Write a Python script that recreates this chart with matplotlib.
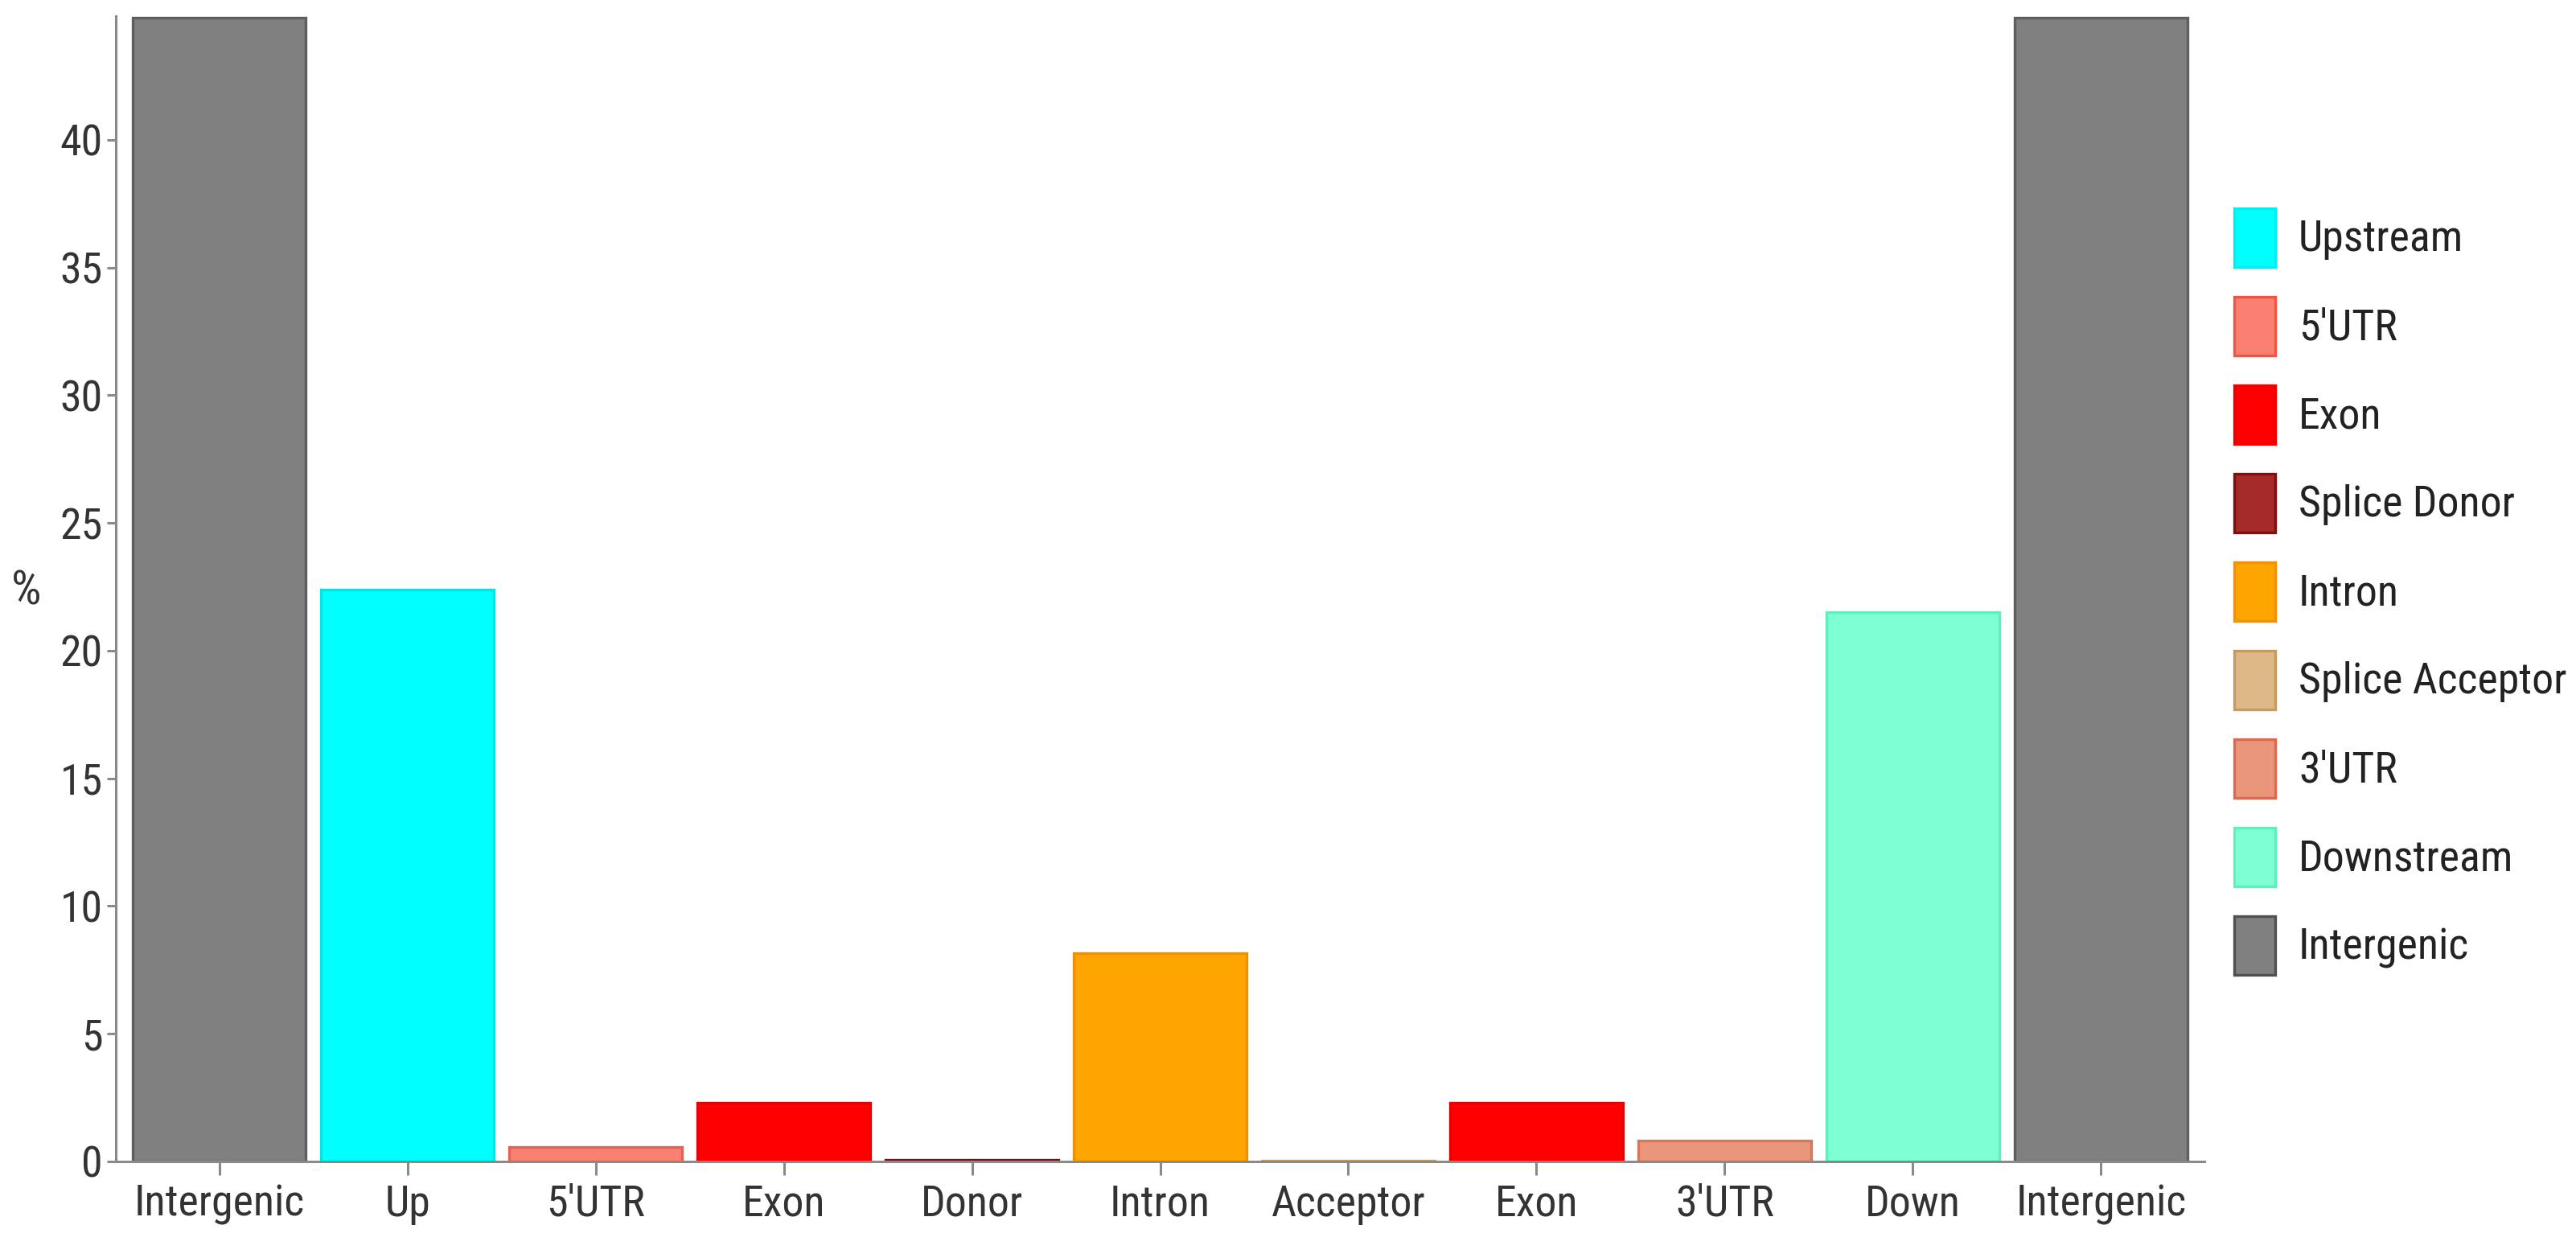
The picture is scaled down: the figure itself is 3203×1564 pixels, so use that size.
import matplotlib
matplotlib.use("Agg")
import matplotlib.pyplot as plt
from matplotlib.patches import Patch
from matplotlib import font_manager as fm

# ---- data ----
categories = ["Intergenic", "Up", "5'UTR", "Exon", "Donor", "Intron",
              "Acceptor", "Exon", "3'UTR", "Down", "Intergenic"]
values = [44.8, 22.4, 0.58, 2.3, 0.05, 8.15, 0.04, 2.3, 0.82, 21.5, 44.8]
fill_colors = ["#808080", "#00FFFF", "#FA8072", "#FF0000", "#A52A2A", "#FFA500",
               "#DEB887", "#FF0000", "#E9967A", "#7FFFD4", "#808080"]
edge_colors = ["#5e5e5e", "#00e5e5", "#e8604f", "#e60000", "#7a1010", "#f09000",
               "#c9a06a", "#e60000", "#d8775a", "#5fefc0", "#5e5e5e"]

legend_labels = ["Upstream", "5'UTR", "Exon", "Splice Donor", "Intron",
                 "Splice Acceptor", "3'UTR", "Downstream", "Intergenic"]
legend_fill = ["#00FFFF", "#FA8072", "#FF0000", "#A52A2A", "#FFA500",
               "#DEB887", "#E9967A", "#7FFFD4", "#808080"]
legend_edge = ["#00eeee", "#ee5544", "#ee0000", "#801010", "#f59000",
               "#c99a60", "#dd6a50", "#60f0c0", "#505050"]

yticks = [0, 5, 10, 15, 20, 25, 30, 35, 40]

# ---- font: prefer a narrow sans if one is installed ----
names = {f.name for f in fm.fontManager.ttflist}
chosen = None
for pref in ['Liberation Sans Narrow', 'Arial Narrow', 'Roboto Condensed',
             'Open Sans Condensed', 'Noto Sans Condensed']:
    if pref in names:
        chosen = dict(family=pref, stretch='normal')
        break
if chosen is None:
    for f in fm.fontManager.ttflist:
        n = f.name.lower()
        if ('narrow' in n or 'condensed' in n or f.stretch in ('condensed', 'semi-condensed')) \
                and 'mono' not in n and 'serif' not in n.replace('sans', ''):
            chosen = dict(family=f.name, stretch=f.stretch)
            break
if chosen is None:
    chosen = dict(family='Liberation Sans', stretch='normal')
plt.rcParams['font.family'] = [chosen['family'], 'DejaVu Sans']
plt.rcParams['font.stretch'] = chosen['stretch']

W, H, DPI = 3203, 1564, 200
fig = plt.figure(figsize=(W / DPI, H / DPI), dpi=DPI)

# pick a size so that "Intergenic" is about as wide as in the reference
r = fig.canvas.get_renderer()
probe = fig.text(0, 0, "Intergenic", fontsize=20)
wpx = probe.get_window_extent(renderer=r).width
probe.remove()
FS = 20 * 212.0 / wpx
FS = min(FS, 23)

ax = fig.add_axes([144 / W, 1 - 1444 / H, (2741 - 144) / W, (1444 - 20) / H])

x = list(range(len(categories)))
ax.bar(x, values, width=0.92, color=fill_colors, edgecolor=edge_colors,
       linewidth=1.2, zorder=2)

ax.set_xlim(-0.55, len(categories) - 1 + 0.55)
ax.set_ylim(0, 44.85)
ax.set_xticks(x)
ax.set_xticklabels(categories)
ax.set_yticks(yticks)

txt_color = "#333333"
ax.tick_params(axis='both', colors="#8a8a8a", labelcolor=txt_color,
               labelsize=FS, width=1.1)
ax.tick_params(axis='y', length=4, pad=1.8)
ax.tick_params(axis='x', length=6, pad=4)

for s in ['top', 'right']:
    ax.spines[s].set_visible(False)
for s in ['left', 'bottom']:
    ax.spines[s].set_color("#8a8a8a")
    ax.spines[s].set_linewidth(1.1)

fig.text(33 / W, 1 - 735 / H, "%", fontsize=FS * 1.1, color=txt_color,
         ha='center', va='center')

Fpx = FS * DPI / 72.0
key_h = 73.0 / Fpx
hh = (key_h - 0.245) / 0.65
handles = [Patch(facecolor=f, edgecolor=e, linewidth=1.2)
           for f, e in zip(legend_fill, legend_edge)]
leg = fig.legend(handles, legend_labels, loc='center left',
                 bbox_to_anchor=(2778 / W, 1 - 735 / H), frameon=False,
                 fontsize=FS, handlelength=51 / Fpx, handleheight=hh,
                 labelspacing=37 / Fpx, handletextpad=29 / Fpx, borderpad=0,
                 borderaxespad=0)
for t in leg.get_texts():
    t.set_color("#222222")

fig.savefig("out.png", dpi=DPI)
